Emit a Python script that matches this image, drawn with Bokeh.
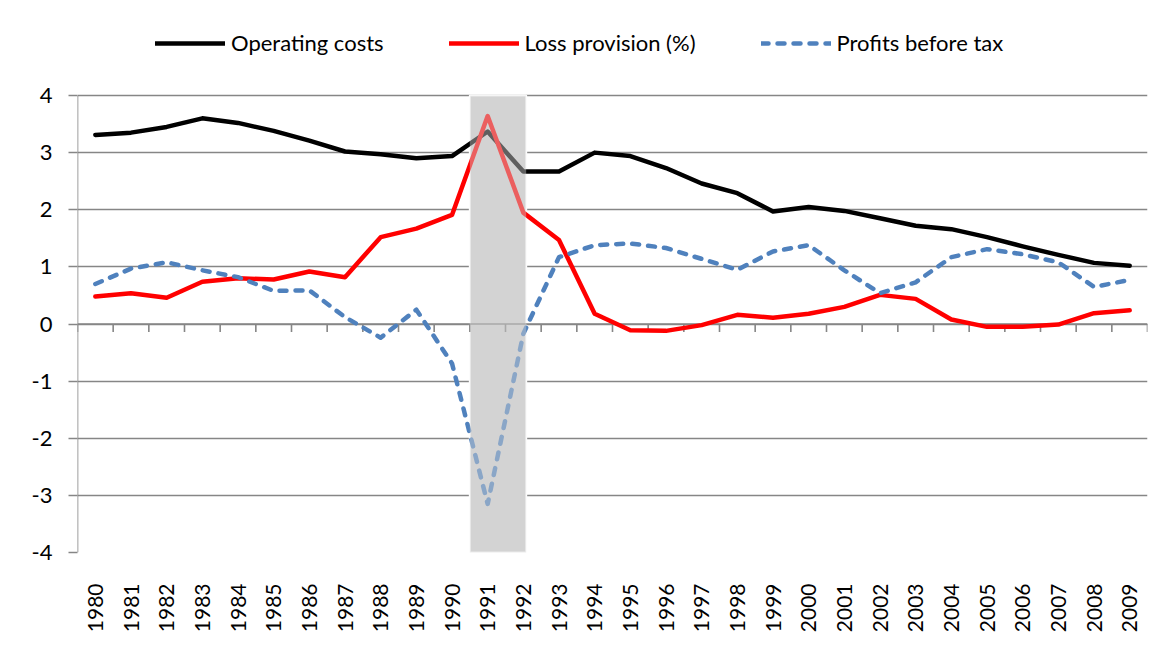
import math
from bokeh.plotting import figure
from bokeh.models import Range1d, FixedTicker, Legend, LegendItem
from bokeh.embed import file_html
from bokeh.resources import INLINE

# ---- data ----
years = list(range(1980, 2010))
year_labels = [str(y) for y in years]
operating_costs = [3.31, 3.35, 3.45, 3.60, 3.52, 3.38, 3.21, 3.02, 2.97, 2.90,
                   2.94, 3.37, 2.67, 2.67, 3.00, 2.94, 2.73, 2.46, 2.29, 1.97,
                   2.05, 1.98, 1.85, 1.72, 1.66, 1.52, 1.36, 1.21, 1.07, 1.02]
loss_provision = [0.48, 0.54, 0.46, 0.74, 0.80, 0.78, 0.92, 0.82, 1.52, 1.67,
                  1.91, 3.64, 1.95, 1.47, 0.18, -0.11, -0.12, -0.02, 0.16, 0.11,
                  0.18, 0.30, 0.51, 0.44, 0.08, -0.05, -0.05, -0.01, 0.19, 0.24]
profits_before_tax = [0.70, 0.97, 1.08, 0.94, 0.82, 0.58, 0.59, 0.12, -0.24, 0.25,
                      -0.69, -3.15, -0.17, 1.17, 1.38, 1.41, 1.33, 1.14, 0.95, 1.27,
                      1.38, 0.94, 0.54, 0.73, 1.17, 1.31, 1.22, 1.08, 0.65, 0.77]
y_ticks = [-4, -3, -2, -1, 0, 1, 2, 3, 4]
y_tick_labels = ["-4", "-3", "-2", "-1", "0", "1", "2", "3", "4"]
shade_from = [1990.5]
shade_to = [1992.08]

FONT = "Lato"
GRID = "#868686"

# value-axis span (-4..4) occupies 457px; the frame is extended upward by 95px
# to give room for the legend above the plotting area
unit_px = 457 / 8
y_top = y_ticks[-1] + 95 / unit_px

p = figure(width=1160, height=644, output_backend="svg", toolbar_location=None,
           x_range=Range1d(years[0] - 0.5, years[-1] + 0.5),
           y_range=Range1d(y_ticks[0], y_top),
           min_border_left=77, min_border_right=13, min_border_top=0, min_border_bottom=92)
p.outline_line_color = None
p.background_fill_color = "white"
p.border_fill_color = "white"

# grid
p.xgrid.grid_line_color = None
p.ygrid.grid_line_color = GRID
p.ygrid.grid_line_width = 1.6
p.yaxis.ticker = FixedTicker(ticks=y_ticks)
p.yaxis.major_label_overrides = {t: s for t, s in zip(y_ticks, y_tick_labels)}

# y axis (line drawn separately from -4 to 4)
p.yaxis.axis_line_color = None
p.yaxis.major_tick_line_color = GRID
p.yaxis.major_tick_line_width = 1.6
p.yaxis.major_tick_out = 9
p.yaxis.major_tick_in = 0
p.yaxis.minor_tick_line_color = None
p.yaxis.major_label_standoff = 16
p.yaxis.major_label_text_font = FONT
p.yaxis.major_label_text_font_size = "22px"
p.yaxis.major_label_text_color = "black"

# x axis (labels only)
p.xaxis.ticker = FixedTicker(ticks=years)
p.xaxis.major_label_overrides = {y: s for y, s in zip(years, year_labels)}
p.xaxis.axis_line_color = None
p.xaxis.major_tick_line_color = None
p.xaxis.minor_tick_line_color = None
p.xaxis.major_label_orientation = math.pi / 2
p.xaxis.major_label_standoff = 25
p.xaxis.major_label_text_font = FONT
p.xaxis.major_label_text_font_size = "21px"
p.xaxis.major_label_text_color = "black"

bounds = [y - 0.5 for y in years] + [years[-1] + 0.5]

# left value-axis line
p.segment(x0=[bounds[0]], x1=[bounds[0]], y0=[y_ticks[0]], y1=[y_ticks[-1]],
          line_color=GRID, line_width=1.6)

# shaded crisis band (opaque part hides gridlines)
p.quad(left=shade_from, right=shade_to, bottom=[y_ticks[0]], top=[y_ticks[-1]],
       fill_color="#d3d3d3", line_color="white", line_width=2)

# category axis line at zero with boundary ticks
p.segment(x0=[bounds[0]], x1=[bounds[-1]], y0=[0], y1=[0], line_color=GRID, line_width=1.6)
p.segment(x0=bounds, x1=bounds, y0=[0] * len(bounds), y1=[-0.14] * len(bounds),
          line_color=GRID, line_width=1.6)

r_oc = p.line(years, operating_costs, line_color="black", line_width=4.5,
              line_join="round", line_cap="round")
r_lp = p.line(years, loss_provision, line_color="#ff0000", line_width=4.5,
              line_join="round", line_cap="round")
r_pb = p.line(years, profits_before_tax, line_color="#4f81bd", line_width=4.5,
              line_dash="7 9", line_join="round", line_cap="round")

# translucent overlay on top of lines
p.quad(left=shade_from, right=shade_to, bottom=[y_ticks[0]], top=[y_ticks[-1]],
       fill_color="#d3d3d3", fill_alpha=0.45, line_color=None)

legend = Legend(items=[LegendItem(label="Operating costs", renderers=[r_oc]),
                       LegendItem(label="Loss provision (%)", renderers=[r_lp]),
                       LegendItem(label="Profits before tax", renderers=[r_pb])],
                orientation="horizontal", location=(78, 496),
                label_text_font=FONT, label_text_font_size="22px",
                label_text_color="black",
                glyph_width=70, glyph_height=22, label_standoff=6, spacing=65,
                padding=0, margin=0, border_line_color=None,
                background_fill_alpha=0)
p.add_layout(legend)

open("out.html", "w").write(file_html(p, INLINE))
